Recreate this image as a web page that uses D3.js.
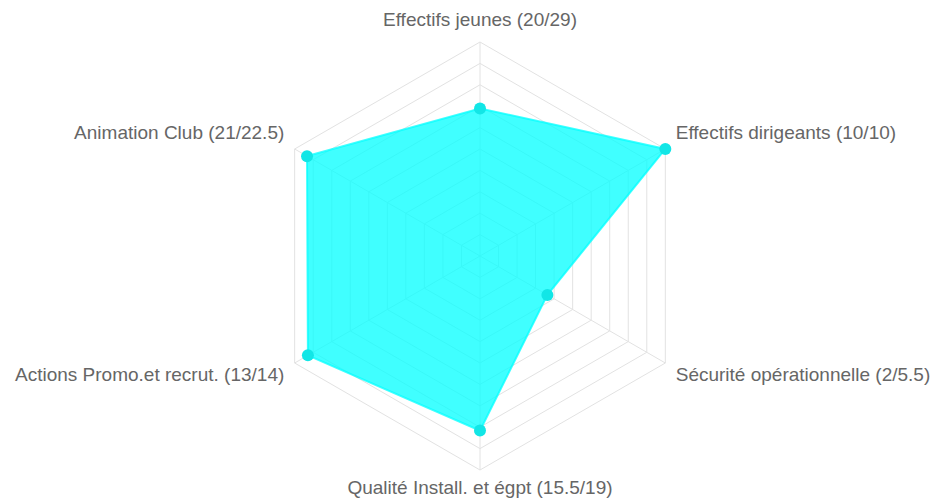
<!DOCTYPE html>
<html>
<head>
<meta charset="utf-8">
<script src="https://cdnjs.cloudflare.com/ajax/libs/d3/7.8.5/d3.min.js"></script>
<style>
  html, body { margin: 0; padding: 0; background: #fff; }
  svg { display: block; }
  text.lbl { font-family: "Liberation Sans", Arial, sans-serif; }
</style>
</head>
<body>
<svg id="chart" width="938" height="503"></svg>
<script>
// Data
const categories = [
  "Effectifs jeunes (20/29)",
  "Effectifs dirigeants (10/10)",
  "Sécurité opérationnelle (2/5.5)",
  "Qualité Install. et égpt (15.5/19)",
  "Actions Promo.et recrut. (13/14)",
  "Animation Club (21/22.5)"
];
const scores = [20, 10, 2, 15.5, 13, 21];
const maxima = [29, 10, 5.5, 19, 14, 22.5];
const gridTicks = [10, 20, 30, 40, 50, 60, 70, 80, 90, 100];

const values = scores.map((s, i) => s / maxima[i] * 100);

const svg = d3.select("#chart");
const cx = 480, cy = 256, R = 214;
const r = d3.scaleLinear().domain([0, 100]).range([0, R]);
const n = categories.length;
const angle = d3.scaleLinear().domain([0, n]).range([0, 2 * Math.PI]);

const g = svg.append("g").attr("transform", `translate(${cx},${cy})`);

const pt = (a, rad) => [rad * Math.sin(a), -rad * Math.cos(a)];

// grid hexagons
const gridLine = d3.lineRadial().angle((d, i) => angle(i)).radius(d => r(d)).curve(d3.curveLinearClosed);
g.selectAll("path.grid").data(gridTicks).join("path")
  .attr("class", "grid")
  .attr("d", t => gridLine(categories.map(() => t)))
  .attr("fill", "none")
  .attr("stroke", "#e2e2e2")
  .attr("stroke-width", 1);

// spokes
g.selectAll("line.spoke").data(categories).join("line")
  .attr("class", "spoke")
  .attr("x1", 0).attr("y1", 0)
  .attr("x2", (d, i) => pt(angle(i), r(100))[0])
  .attr("y2", (d, i) => pt(angle(i), r(100))[1])
  .attr("stroke", "#e2e2e2")
  .attr("stroke-width", 1);

// data area
const area = d3.lineRadial().angle((d, i) => angle(i)).radius(d => r(d)).curve(d3.curveLinearClosed);
g.append("path")
  .attr("d", area(values))
  .attr("fill", "rgba(0,255,255,0.75)")
  .attr("stroke", "rgba(0,255,255,0.75)")
  .attr("stroke-width", 2);

// points
g.selectAll("circle.pt").data(values).join("circle")
  .attr("class", "pt")
  .attr("cx", (d, i) => pt(angle(i), r(d))[0])
  .attr("cy", (d, i) => pt(angle(i), r(d))[1])
  .attr("r", 6)
  .attr("fill", "#12e6e6");

// labels
g.selectAll("text.lbl").data(categories).join("text")
  .attr("class", "lbl")
  .each(function(d, i) {
    const a = angle(i);
    const [x, y] = pt(a, R + 12);
    const sx = Math.sin(a);
    const anchor = Math.abs(sx) < 0.01 ? "middle" : (sx > 0 ? "start" : "end");
    const by = y < -1 ? y - 4 : y + 12;
    d3.select(this)
      .attr("x", x)
      .attr("y", by)
      .attr("text-anchor", anchor)
      .text(d);
  })
  .attr("font-size", 19)
  .attr("fill", "#666");
</script>
</body>
</html>
